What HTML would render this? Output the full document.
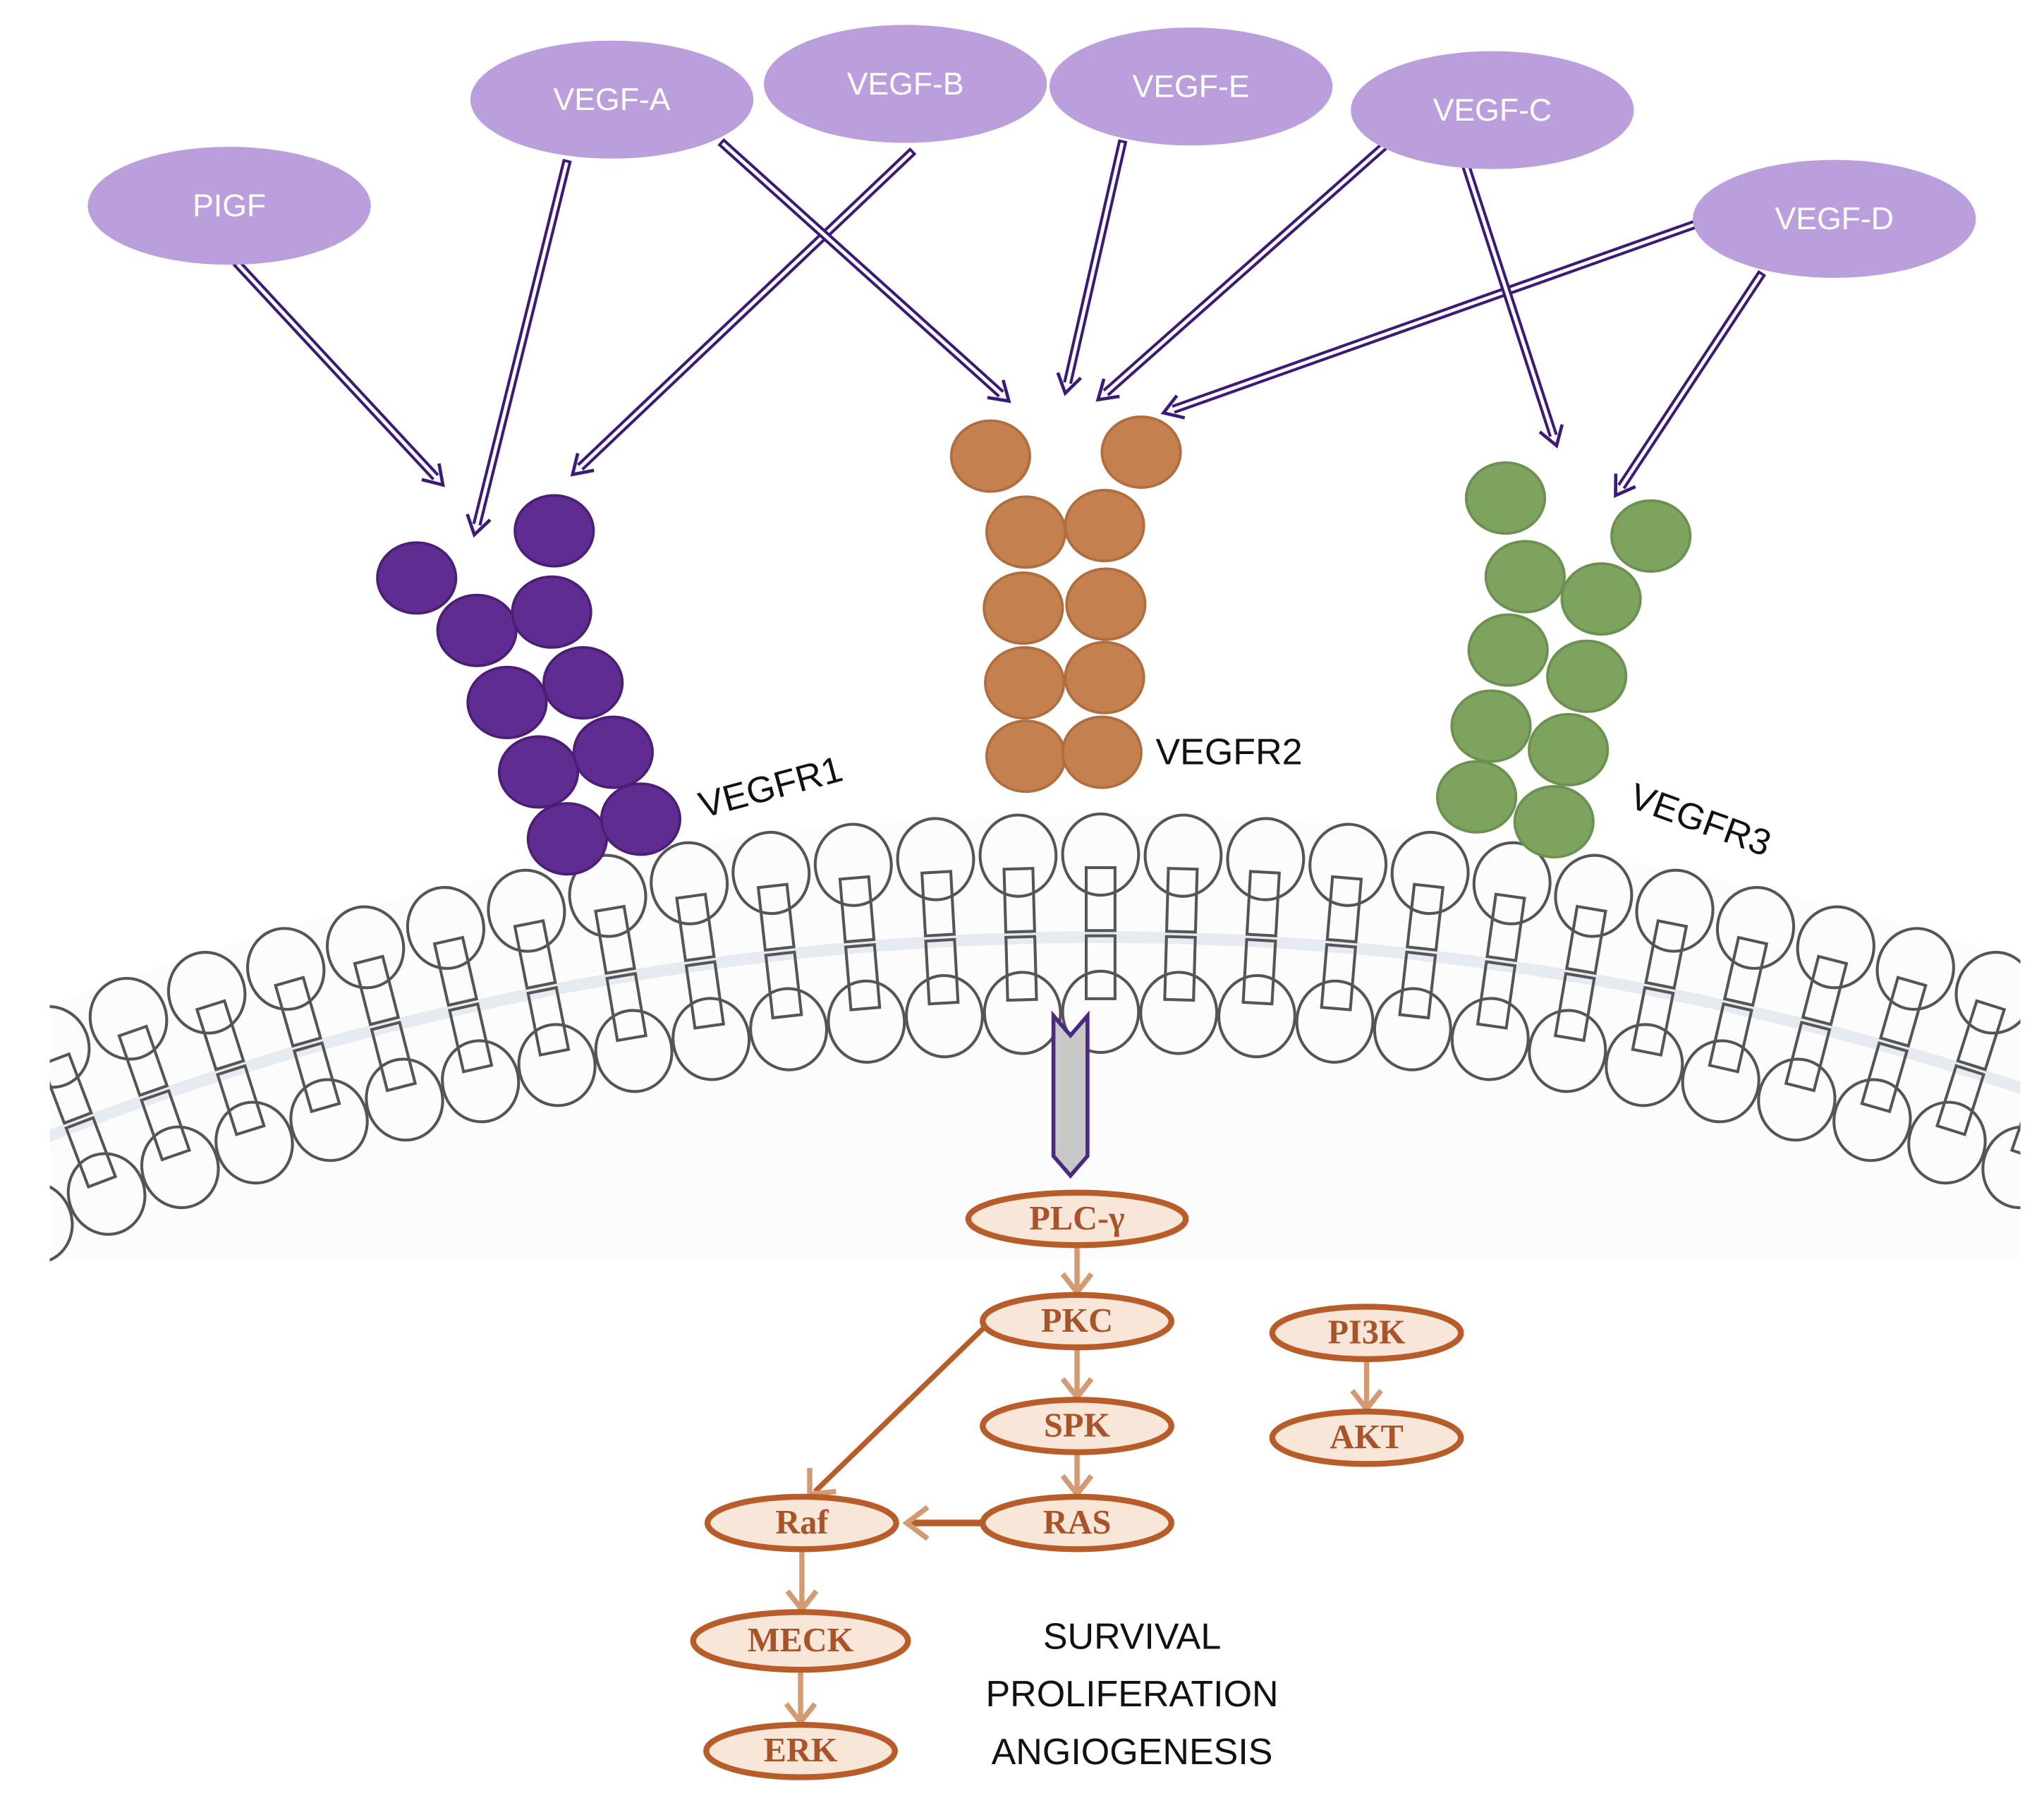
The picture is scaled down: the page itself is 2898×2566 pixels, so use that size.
<!DOCTYPE html>
<html><head><meta charset="utf-8"><style>
html,body{margin:0;padding:0;background:#fff}
svg{display:block}
.lig{font-family:"Liberation Sans",sans-serif;font-size:24px;fill:#fff}
.pw{font-family:"Liberation Serif",serif;font-weight:bold;font-size:26px;fill:#a8532a}
.lab{font-family:"Liberation Sans",sans-serif;font-size:28px;fill:#111}
</style></head><body>
<svg id="s" width="2898" height="2566" viewBox="0 0 1560 1381" preserveAspectRatio="none" xmlns="http://www.w3.org/2000/svg">
<defs><clipPath id="c"><rect x="38" y="0" width="1504" height="1381"/></clipPath></defs>
<g id="mem" clip-path="url(#c)"></g>
<g id="arrows"></g>
<g id="recs"></g>
<g>
<ellipse cx="175" cy="157" rx="108" ry="45" fill="#bb9fdd"/><text class="lig" x="175" y="165" text-anchor="middle">PIGF</text>
<ellipse cx="467" cy="76" rx="108" ry="45" fill="#bb9fdd"/><text class="lig" x="467" y="84" text-anchor="middle">VEGF-A</text>
<ellipse cx="691" cy="64" rx="108" ry="45" fill="#bb9fdd"/><text class="lig" x="691" y="72" text-anchor="middle">VEGF-B</text>
<ellipse cx="909" cy="66" rx="108" ry="45" fill="#bb9fdd"/><text class="lig" x="909" y="74" text-anchor="middle">VEGF-E</text>
<ellipse cx="1139" cy="84" rx="108" ry="45" fill="#bb9fdd"/><text class="lig" x="1139" y="92" text-anchor="middle">VEGF-C</text>
<ellipse cx="1400" cy="167" rx="108" ry="45" fill="#bb9fdd"/><text class="lig" x="1400" y="175" text-anchor="middle">VEGF-D</text>
</g>
<text class="lab" x="588" y="610" text-anchor="middle" transform="rotate(-15 588 600)">VEGFR1</text>
<text class="lab" x="938" y="583" text-anchor="middle">VEGFR2</text>
<text class="lab" x="1298" y="635" text-anchor="middle" transform="rotate(20 1298 625)">VEGFR3</text>
<polygon points="804,775 817,790 830,775 830,882 817,897 804,882" fill="#c8c8c8" stroke="#4a2a80" stroke-width="3"/>
<g id="pw"></g>
<text class="lab" x="864" y="1258" text-anchor="middle">SURVIVAL</text>
<text class="lab" x="864" y="1302" text-anchor="middle">PROLIFERATION</text>
<text class="lab" x="864" y="1346" text-anchor="middle">ANGIOGENESIS</text>
</svg>
<script>
var NS="http://www.w3.org/2000/svg";
function el(p,t,a){var e=document.createElementNS(NS,t);for(var k in a)e.setAttribute(k,a[k]);p.appendChild(e);return e;}
var mem=document.getElementById('mem');
var cx=840,cy=2912,R=2260,Ri=2140,Rm=2197;
var d="";
for(var a=-0.42;a<=0.42;a+=0.01){var x=cx+Rm*Math.sin(a),y=cy-Rm*Math.cos(a);d+=(d?"L":"M")+x.toFixed(1)+","+y.toFixed(1);}
var fd="";
for(var a=-0.42;a<=0.42;a+=0.01){var x=cx+(R+30)*Math.sin(a),y=cy-(R+30)*Math.cos(a);fd+=(fd?"L":"M")+x.toFixed(1)+","+y.toFixed(1);}
fd+="L1542,960L38,960Z";
el(mem,'path',{d:fd,fill:"#fcfcfd"});
el(mem,'path',{d:d,fill:"none",stroke:"#e6ebf1","stroke-width":9});
var step=63/R;
for(var i=-14;i<=14;i++){
 var a=i*step;var s=Math.sin(a),c=Math.cos(a);
 var deg=a*180/Math.PI;
 var ux=cx+R*s,uy=cy-R*c;
 var g=el(mem,'g',{transform:"translate("+ux+","+uy+") rotate("+deg+")"});
 el(g,'rect',{x:-11,y:10,width:22,height:48,fill:"none",stroke:"#555","stroke-width":2.2});
 el(g,'ellipse',{cx:0,cy:0,rx:29,ry:31,fill:"none",stroke:"#555","stroke-width":2.2});
 var lx=cx+Ri*s,ly=cy-Ri*c;
 var g2=el(mem,'g',{transform:"translate("+lx+","+ly+") rotate("+deg+")"});
 el(g2,'rect',{x:-11,y:-58,width:22,height:48,fill:"none",stroke:"#555","stroke-width":2.2});
 el(g2,'ellipse',{cx:0,cy:0,rx:29,ry:31,fill:"none",stroke:"#555","stroke-width":2.2});
}
var recs=document.getElementById('recs');
function rec(pts,f,s){pts.forEach(function(p){el(recs,'ellipse',{cx:p[0],cy:p[1],rx:30,ry:27,fill:f,stroke:s,"stroke-width":2});});}
rec([[318,441],[423,405],[364,481],[421,467],[387,536],[445,521],[411,589],[468,574],[433,640],[489,625]],"#5f2d91","#4a1f75");
rec([[756,348],[871,345],[783,406],[843,401],[781,464],[844,461],[782,521],[843,517],[783,577],[841,574]],"#c5804f","#b06d3e");
rec([[1149,380],[1260,409],[1164,440],[1222,457],[1151,496],[1211,516],[1138,554],[1197,572],[1127,608],[1186,627]],"#7da35f","#6b9050");
var ag=document.getElementById('arrows');
function darrow(x1,y1,x2,y2){
 var dx=x2-x1,dy=y2-y1,L=Math.hypot(dx,dy),ux=dx/L,uy=dy/L;
 var ex=x2-ux*8,ey=y2-uy*8;
 el(ag,'line',{x1:x1,y1:y1,x2:ex,y2:ey,stroke:"#3d1a78","stroke-width":7});
 el(ag,'line',{x1:x1+ux*2,y1:y1+uy*2,x2:ex,y2:ey,stroke:"#fff","stroke-width":2.6});
 var px=-uy,py=ux,b=14;
 el(ag,'polyline',{points:(x2-ux*b+px*9)+","+(y2-uy*b+py*9)+" "+x2+","+y2+" "+(x2-ux*b-px*9)+","+(y2-uy*b-py*9),fill:"none",stroke:"#3d1a78","stroke-width":2.5});
}
darrow(180,200,338,370);darrow(433,122,362,408);darrow(697,115,437,362);darrow(550,108,770,306);
darrow(857,107,813,300);darrow(1058,110,838,305);darrow(1297,170,888,315);darrow(1118,124,1188,340);darrow(1345,208,1233,378);
var pw=document.getElementById('pw');
function chev(x,y1,y2){el(pw,'line',{x1:x,y1:y1,x2:x,y2:y2,stroke:"#d49a72","stroke-width":4});
 el(pw,'polyline',{points:(x-11)+","+(y2-14)+" "+x+","+y2+" "+(x+11)+","+(y2-14),fill:"none",stroke:"#d49a72","stroke-width":4});}
chev(822,952,986);chev(822,1030,1066);chev(822,1110,1140);chev(612,1184,1228);chev(611,1276,1314);chev(1043,1039,1075);
el(pw,'line',{x1:752,y1:1012,x2:622,y2:1138,stroke:"#b85c2a","stroke-width":4});
el(pw,'polyline',{points:"618,1120 618,1140 638,1138",fill:"none",stroke:"#d49a72","stroke-width":4});
el(pw,'line',{x1:750,y1:1162,x2:692,y2:1162,stroke:"#b85c2a","stroke-width":5});
el(pw,'polyline',{points:"708,1150 692,1162 708,1174",fill:"none",stroke:"#d49a72","stroke-width":4});
function node(x,y,rx,ry,t){el(pw,'ellipse',{cx:x,cy:y,rx:rx,ry:ry,fill:"#f8e6d8",stroke:"#b85c2a","stroke-width":4.5});
 var tx=el(pw,'text',{x:x,y:y+8,"text-anchor":"middle","class":"pw"});tx.textContent=t;}
node(822,930,83,20,"PLC-γ");node(822,1008,72,20,"PKC");node(822,1088,72,20,"SPK");node(822,1162,72,20,"RAS");
node(612,1162,72,20,"Raf");node(611,1252,82,22,"MECK");node(611,1336,72,20,"ERK");node(1043,1017,72,20,"PI3K");node(1043,1097,72,20,"AKT");
</script>
</body></html>
